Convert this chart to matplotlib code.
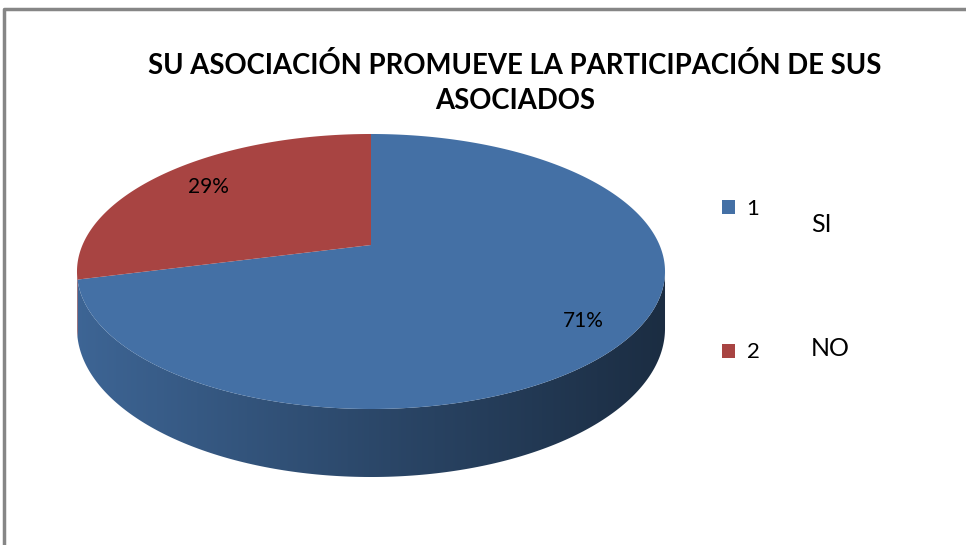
import numpy as np
import matplotlib.pyplot as plt
from matplotlib.patches import Polygon, Patch
from matplotlib.colors import LinearSegmentedColormap, to_rgb

# Datos
categorias = ['1', '2']
respuestas = ['SI', 'NO']
valores = [71, 29]
colores = ['#4470A5', '#A84442']
titulo = 'SU ASOCIACIÓN PROMUEVE LA PARTICIPACIÓN DE SUS\nASOCIADOS'

fuente = ['Lato', 'DejaVu Sans']

# Geometría del pastel 3D (perspectiva simple, en píxeles)
cx, cy = 371, 245
A, B, k = 288.5, 132.4, 0.1927
H = 54.9


def proyectar(t, r=1.0, z=0.0):
    u, v = r * np.cos(t), r * np.sin(t)
    w = 1 + k * v
    return cx + A * u / w, cy + (-B * v + H * z) / w


fig = plt.figure(figsize=(9.66, 5.45), dpi=100)
ax = fig.add_axes([0, 0, 1, 1])
ax.set_axis_off()

fracciones = np.array(valores) / np.sum(valores)
limites = 90 - 360 * np.concatenate([[0], np.cumsum(fracciones)])

# lado visible del cilindro
a_sil = np.degrees(np.arcsin(k))
vis_lo, vis_hi = -180 + a_sil, -a_sil
x_izq, _ = proyectar(np.radians(vis_lo))
x_der, _ = proyectar(np.radians(vis_hi))
for i, col in enumerate(colores):
    t0, t1 = limites[i], limites[i + 1]
    lo, hi = max(t1, vis_lo), min(t0, vis_hi)
    if lo >= hi:
        continue
    t = np.radians(np.linspace(lo, hi, 200))
    xs, ys = proyectar(t)
    xb, yb = proyectar(t[::-1], z=1.0)
    lado = Polygon(np.column_stack([np.r_[xs, xb], np.r_[ys, yb]]),
                   closed=True, facecolor='none', edgecolor='none')
    ax.add_patch(lado)
    c = np.array(to_rgb(col))
    cmap = LinearSegmentedColormap.from_list('g%d' % i, [c * 0.9, c * 0.64, c * 0.4])
    grad = np.linspace(0, 1, 256).reshape(1, -1)
    im = ax.imshow(grad, cmap=cmap, aspect='auto',
                   extent=[x_izq, x_der, cy + 320, cy - 80])
    im.set_clip_path(lado)

# cara superior
radio_etq = [0.84, 0.78]
for i, col in enumerate(colores):
    t = np.radians(np.linspace(limites[i], limites[i + 1], 300))
    xs, ys = proyectar(t)
    cuña = Polygon(np.column_stack([np.r_[cx, xs], np.r_[cy, ys]]),
                   closed=True, facecolor=col, edgecolor='none')
    ax.add_patch(cuña)
    medio = np.radians((limites[i] + limites[i + 1]) / 2)
    lx, ly = proyectar(medio, r=radio_etq[i])
    ax.text(lx, ly, '%d%%' % valores[i], ha='center', va='center',
            fontsize=15, family=fuente, color='black')

# marco
ax.plot([4, 4, 980], [560, 9, 9], color='#868686', lw=2.5, solid_capstyle='butt')

ax.text(515, 83, titulo, ha='center', va='center', fontsize=19.8,
        fontweight='bold', family=fuente, linespacing=1.47)

manijas = [Patch(facecolor=c, edgecolor='none') for c in colores]
ax.legend(manijas, categorias, loc='upper left', bbox_to_anchor=(711, 188),
          bbox_transform=ax.transData, frameon=False, borderpad=0,
          handlelength=0.6, handleheight=0.6, handletextpad=0.5,
          labelspacing=5.55, prop={'family': fuente, 'size': 16})

ax.text(811, 225, respuestas[0], ha='left', va='center', fontsize=18, family=fuente)
ax.text(811, 349, respuestas[1], ha='left', va='center', fontsize=18, family=fuente)

ax.set_xlim(0, 966)
ax.set_ylim(545, 0)
fig.savefig('out.png', dpi=100)
